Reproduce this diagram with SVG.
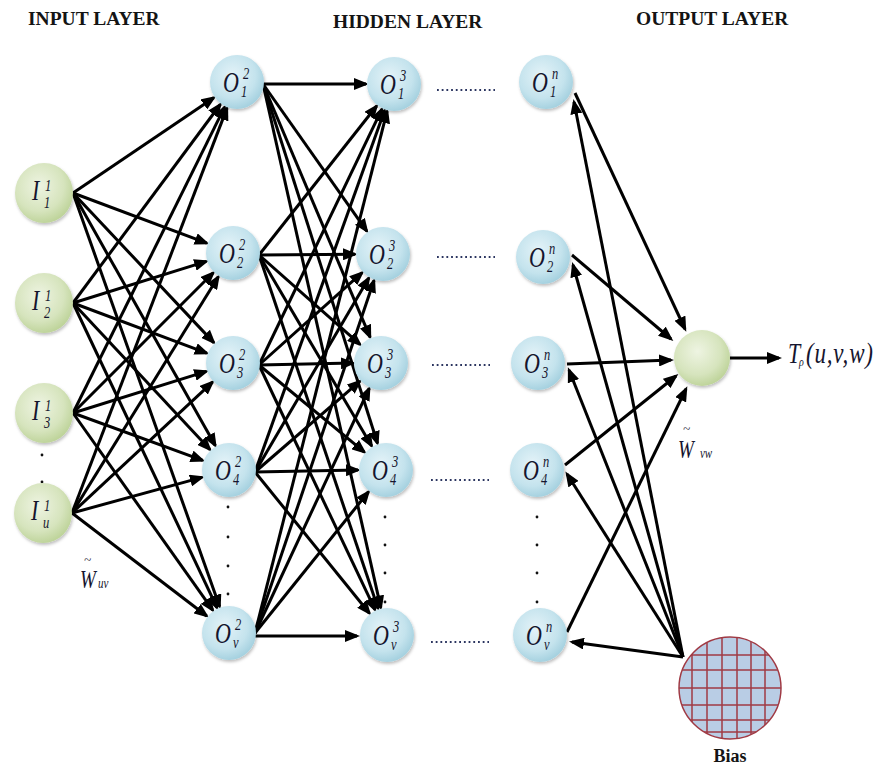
<svg xmlns="http://www.w3.org/2000/svg" width="879" height="765" viewBox="0 0 879 765">
<style>
.title{font-family:"Liberation Serif","Times New Roman",serif;font-weight:bold;font-size:19.5px;fill:#141414}
.lbl{font-family:"Liberation Serif","Times New Roman",serif;font-style:italic;fill:#15152e}
.big{font-size:22px}
.sm{font-size:12.5px}
.conn line{stroke:#000;stroke-width:3;marker-end:url(#ah)}
.dots line{stroke:#2b3560;stroke-width:2;stroke-dasharray:1.8 2.9}
.vd circle{fill:#111}
.blue{fill:url(#gb);filter:url(#sh)}
.green{fill:url(#gg);filter:url(#sh)}
</style>
<defs>
<radialGradient id="gb" cx="0.42" cy="0.38" r="0.65">
<stop offset="0" stop-color="#e4f3f8"/>
<stop offset="0.65" stop-color="#c4e3ed"/>
<stop offset="1" stop-color="#a2cfde"/>
</radialGradient>
<radialGradient id="gg" cx="0.42" cy="0.38" r="0.65">
<stop offset="0" stop-color="#eef4e2"/>
<stop offset="0.65" stop-color="#d6e4bd"/>
<stop offset="1" stop-color="#bcd297"/>
</radialGradient>
<filter id="sh" x="-30%" y="-30%" width="160%" height="160%">
<feDropShadow dx="1" dy="2" stdDeviation="1.5" flood-color="#000" flood-opacity="0.25"/>
</filter>
<marker id="ah" markerUnits="userSpaceOnUse" markerWidth="15" markerHeight="12" refX="12" refY="6" orient="auto">
<path d="M0,0 L15,6 L0,12 z" fill="#000"/>
</marker>
<clipPath id="bc"><circle cx="730" cy="688" r="51"/></clipPath>
</defs>
<rect width="879" height="765" fill="#fff"/>

<text class="title" x="28" y="25">INPUT LAYER</text>
<text class="title" x="333" y="28">HIDDEN LAYER</text>
<text class="title" x="636" y="25">OUTPUT LAYER</text>

<g class="dots">
<line x1="437" y1="90" x2="495" y2="90"/>
<line x1="437" y1="257" x2="495" y2="257"/>
<line x1="432" y1="365" x2="490" y2="365"/>
<line x1="431" y1="480" x2="489" y2="480"/>
<line x1="431" y1="642" x2="489" y2="642"/>
</g>
<g class="vd">
<circle cx="42" cy="455" r="1.4"/><circle cx="42" cy="482" r="1.4"/>
<circle cx="228" cy="507" r="1.4"/><circle cx="228" cy="537" r="1.4"/><circle cx="228" cy="566" r="1.4"/><circle cx="228" cy="594" r="1.4"/>
<circle cx="385" cy="517" r="1.4"/><circle cx="385" cy="545" r="1.4"/><circle cx="385" cy="573" r="1.4"/><circle cx="385" cy="602" r="1.4"/>
<circle cx="537" cy="517" r="1.4"/><circle cx="537" cy="545" r="1.4"/><circle cx="537" cy="573" r="1.4"/><circle cx="537" cy="602" r="1.4"/>
</g>

<g id="connectors" class="conn">
<line x1="73" y1="193" x2="213.8" y2="97.7"/>
<line x1="73" y1="193" x2="206.8" y2="243.2"/>
<line x1="73" y1="193" x2="213.8" y2="342.6"/>
<line x1="73" y1="193" x2="215.3" y2="445.6"/>
<line x1="73" y1="193" x2="219.6" y2="606.6"/>
<line x1="73" y1="303" x2="220.3" y2="104.5"/>
<line x1="73" y1="303" x2="206.3" y2="261.4"/>
<line x1="73" y1="303" x2="206.8" y2="353.2"/>
<line x1="73" y1="303" x2="209.9" y2="449.5"/>
<line x1="73" y1="303" x2="217" y2="607.7"/>
<line x1="73" y1="413" x2="224.6" y2="107.1"/>
<line x1="73" y1="413" x2="213.2" y2="272.8"/>
<line x1="73" y1="413" x2="206.3" y2="371.4"/>
<line x1="73" y1="413" x2="202.7" y2="460.4"/>
<line x1="73" y1="413" x2="212.8" y2="610.2"/>
<line x1="72" y1="513" x2="227" y2="108.1"/>
<line x1="72" y1="513" x2="218.3" y2="276.8"/>
<line x1="72" y1="513" x2="212.5" y2="382.1"/>
<line x1="72" y1="513" x2="202" y2="477.4"/>
<line x1="72" y1="513" x2="206.7" y2="616"/>

<line x1="263" y1="84" x2="366" y2="84"/>
<line x1="263" y1="84" x2="366.8" y2="231.1"/>
<line x1="263" y1="84" x2="370.1" y2="337.2"/>
<line x1="263" y1="84" x2="377.5" y2="443.3"/>
<line x1="263" y1="84" x2="380.8" y2="607.7"/>
<line x1="259" y1="255" x2="376.6" y2="106"/>
<line x1="259" y1="255" x2="355" y2="254.2"/>
<line x1="259" y1="255" x2="360" y2="344.4"/>
<line x1="259" y1="255" x2="371.7" y2="445.9"/>
<line x1="259" y1="255" x2="378.1" y2="608.5"/>
<line x1="259" y1="365" x2="381.9" y2="109.2"/>
<line x1="259" y1="365" x2="362.1" y2="272.7"/>
<line x1="259" y1="365" x2="353" y2="363.1"/>
<line x1="259" y1="365" x2="364.4" y2="452.2"/>
<line x1="259" y1="365" x2="375" y2="609.7"/>
<line x1="255" y1="472" x2="384.6" y2="110.4"/>
<line x1="255" y1="472" x2="368.8" y2="278.1"/>
<line x1="255" y1="472" x2="359.8" y2="381.3"/>
<line x1="255" y1="472" x2="358" y2="470"/>
<line x1="255" y1="472" x2="369.4" y2="613.2"/>
<line x1="255" y1="633" x2="387.1" y2="111.1"/>
<line x1="255" y1="633" x2="374" y2="280.5"/>
<line x1="255" y1="633" x2="369.2" y2="388.4"/>
<line x1="255" y1="633" x2="368.5" y2="491.8"/>
<line x1="255" y1="636" x2="357" y2="636"/>

<line x1="575" y1="93" x2="685" y2="329"/>
<line x1="572" y1="255" x2="671" y2="339"/>
<line x1="567" y1="364" x2="671" y2="360"/>
<line x1="565" y1="465" x2="676" y2="376"/>
<line x1="567" y1="632" x2="686" y2="389"/>
<line x1="683" y1="657" x2="574" y2="102"/>
<line x1="683" y1="657" x2="573" y2="265"/>
<line x1="683" y1="657" x2="569" y2="370"/>
<line x1="683" y1="657" x2="567" y2="474"/>
<line x1="683" y1="657" x2="572" y2="642"/>
<line x1="730" y1="358" x2="779" y2="358"/>
</g>

<g id="I1"><ellipse class="green" cx="44" cy="193" rx="29" ry="30"/>
<text class="lbl" transform="translate(44 193) scale(1 1.35)"><tspan class="big" x="-12" y="5.2">I</tspan><tspan class="sm" x="1" y="-1.2">1</tspan><tspan class="sm" x="0" y="11.4">1</tspan></text></g>
<g id="I2"><ellipse class="green" cx="44" cy="303" rx="29" ry="30"/>
<text class="lbl" transform="translate(44 303) scale(1 1.35)"><tspan class="big" x="-12" y="5.2">I</tspan><tspan class="sm" x="1" y="-1.2">1</tspan><tspan class="sm" x="0" y="11.4">2</tspan></text></g>
<g id="I3"><ellipse class="green" cx="44" cy="413" rx="29" ry="30"/>
<text class="lbl" transform="translate(44 413) scale(1 1.35)"><tspan class="big" x="-12" y="5.2">I</tspan><tspan class="sm" x="1" y="-1.2">1</tspan><tspan class="sm" x="0" y="11.4">3</tspan></text></g>
<g id="Iu"><ellipse class="green" cx="43" cy="513" rx="29" ry="30"/>
<text class="lbl" transform="translate(43 513) scale(1 1.35)"><tspan class="big" x="-12" y="5.2">I</tspan><tspan class="sm" x="1" y="-1.2">1</tspan><tspan class="sm" x="0" y="11.4">u</tspan></text></g>

<g id="O2_1"><circle class="blue" cx="237" cy="82" r="27"/>
<text class="lbl" transform="translate(237 82) scale(1 1.35)"><tspan class="big" x="-14" y="7.4">O</tspan><tspan class="sm" x="6" y="-2">2</tspan><tspan class="sm" x="4" y="11.4">1</tspan></text></g>
<g id="O2_2"><circle class="blue" cx="233" cy="253" r="27"/>
<text class="lbl" transform="translate(233 253) scale(1 1.35)"><tspan class="big" x="-14" y="7.4">O</tspan><tspan class="sm" x="6" y="-2">2</tspan><tspan class="sm" x="4" y="11.4">2</tspan></text></g>
<g id="O2_3"><circle class="blue" cx="233" cy="363" r="27"/>
<text class="lbl" transform="translate(233 363) scale(1 1.35)"><tspan class="big" x="-14" y="7.4">O</tspan><tspan class="sm" x="6" y="-2">2</tspan><tspan class="sm" x="4" y="11.4">3</tspan></text></g>
<g id="O2_4"><circle class="blue" cx="229" cy="470" r="27"/>
<text class="lbl" transform="translate(229 470) scale(1 1.35)"><tspan class="big" x="-14" y="7.4">O</tspan><tspan class="sm" x="6" y="-2">2</tspan><tspan class="sm" x="4" y="11.4">4</tspan></text></g>
<g id="O2_v"><circle class="blue" cx="229" cy="633" r="27"/>
<text class="lbl" transform="translate(229 633) scale(1 1.35)"><tspan class="big" x="-14" y="7.4">O</tspan><tspan class="sm" x="6" y="-2">2</tspan><tspan class="sm" x="4" y="11.4">v</tspan></text></g>

<g id="O3_1"><circle class="blue" cx="394" cy="84" r="27"/>
<text class="lbl" transform="translate(394 84) scale(1 1.35)"><tspan class="big" x="-14" y="7.4">O</tspan><tspan class="sm" x="6" y="-2">3</tspan><tspan class="sm" x="4" y="11.4">1</tspan></text></g>
<g id="O3_2"><circle class="blue" cx="383" cy="254" r="27"/>
<text class="lbl" transform="translate(383 254) scale(1 1.35)"><tspan class="big" x="-14" y="7.4">O</tspan><tspan class="sm" x="6" y="-2">3</tspan><tspan class="sm" x="4" y="11.4">2</tspan></text></g>
<g id="O3_3"><circle class="blue" cx="381" cy="363" r="27"/>
<text class="lbl" transform="translate(381 363) scale(1 1.35)"><tspan class="big" x="-14" y="7.4">O</tspan><tspan class="sm" x="6" y="-2">3</tspan><tspan class="sm" x="4" y="11.4">3</tspan></text></g>
<g id="O3_4"><circle class="blue" cx="386" cy="470" r="27"/>
<text class="lbl" transform="translate(386 470) scale(1 1.35)"><tspan class="big" x="-14" y="7.4">O</tspan><tspan class="sm" x="6" y="-2">3</tspan><tspan class="sm" x="4" y="11.4">4</tspan></text></g>
<g id="O3_v"><circle class="blue" cx="387" cy="635" r="27"/>
<text class="lbl" transform="translate(387 635) scale(1 1.35)"><tspan class="big" x="-14" y="7.4">O</tspan><tspan class="sm" x="6" y="-2">3</tspan><tspan class="sm" x="4" y="11.4">v</tspan></text></g>

<g id="On_1"><circle class="blue" cx="546" cy="82" r="27"/>
<text class="lbl" transform="translate(546 82) scale(1 1.35)"><tspan class="big" x="-14" y="7.4">O</tspan><tspan class="sm" x="6" y="-2">n</tspan><tspan class="sm" x="4" y="11.4">1</tspan></text></g>
<g id="On_2"><circle class="blue" cx="543" cy="257" r="27"/>
<text class="lbl" transform="translate(543 257) scale(1 1.35)"><tspan class="big" x="-14" y="7.4">O</tspan><tspan class="sm" x="6" y="-2">n</tspan><tspan class="sm" x="4" y="11.4">2</tspan></text></g>
<g id="On_3"><circle class="blue" cx="538" cy="363" r="27"/>
<text class="lbl" transform="translate(538 363) scale(1 1.35)"><tspan class="big" x="-14" y="7.4">O</tspan><tspan class="sm" x="6" y="-2">n</tspan><tspan class="sm" x="4" y="11.4">3</tspan></text></g>
<g id="On_4"><circle class="blue" cx="537" cy="470" r="27"/>
<text class="lbl" transform="translate(537 470) scale(1 1.35)"><tspan class="big" x="-14" y="7.4">O</tspan><tspan class="sm" x="6" y="-2">n</tspan><tspan class="sm" x="4" y="11.4">4</tspan></text></g>
<g id="On_v"><circle class="blue" cx="540" cy="635" r="27"/>
<text class="lbl" transform="translate(540 635) scale(1 1.35)"><tspan class="big" x="-14" y="7.4">O</tspan><tspan class="sm" x="6" y="-2">n</tspan><tspan class="sm" x="4" y="11.4">v</tspan></text></g>

<g id="output"><circle class="green" cx="702" cy="358" r="28"/></g>

<g id="bias">
<circle cx="730" cy="688" r="51" fill="#b9cde5"/>
<g clip-path="url(#bc)" stroke="#a03a44" stroke-width="1.5">
<line x1="692" y1="630" x2="692" y2="745"/><line x1="707" y1="630" x2="707" y2="745"/><line x1="722" y1="630" x2="722" y2="745"/><line x1="737" y1="630" x2="737" y2="745"/><line x1="751" y1="630" x2="751" y2="745"/><line x1="765" y1="630" x2="765" y2="745"/>
<line x1="675" y1="655" x2="785" y2="655"/><line x1="675" y1="670" x2="785" y2="670"/><line x1="675" y1="688" x2="785" y2="688"/><line x1="675" y1="705" x2="785" y2="705"/><line x1="675" y1="720" x2="785" y2="720"/><line x1="675" y1="732" x2="785" y2="732"/>
</g>
<circle cx="730" cy="688" r="51" fill="none" stroke="#a03a44" stroke-width="1.5"/>
<text class="title" x="730" y="762" text-anchor="middle" style="font-size:18px">Bias</text>
</g>

<g id="labels">
<text class="lbl" transform="translate(788 363) scale(1 1.3)"><tspan x="0" y="0" style="font-size:22px">T</tspan><tspan x="11" y="2.5" style="font-size:10px">ρ</tspan><tspan x="18" y="0" style="font-size:23px;letter-spacing:0.8px">(u,v,w)</tspan></text>
<text class="lbl" x="683" y="433" style="font-size:13px">~</text>
<text class="lbl" transform="translate(678 458) scale(1 1.3)"><tspan x="0" y="0" style="font-size:19px">W</tspan><tspan x="22" y="0" style="font-size:11px">vw</tspan></text>
<text class="lbl" x="84" y="564" style="font-size:13px">~</text>
<text class="lbl" transform="translate(80 588) scale(1 1.3)"><tspan x="0" y="0" style="font-size:19px">W</tspan><tspan x="18" y="0" style="font-size:11px">uv</tspan></text>
</g>
</svg>
